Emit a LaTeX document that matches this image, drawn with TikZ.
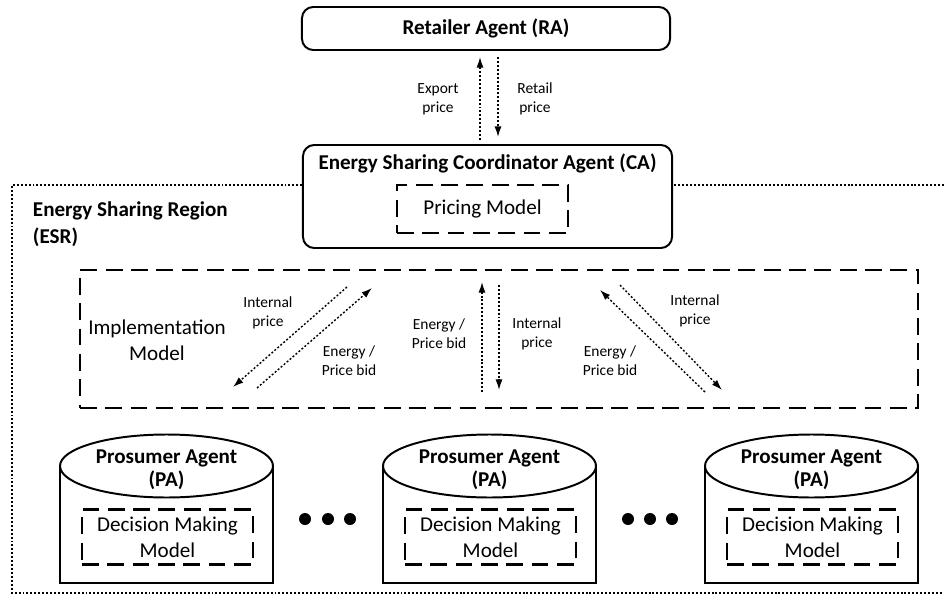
\documentclass[tikz,border=0pt]{standalone}
\usepackage{fontspec}
\setmainfont{Carlito}
\usetikzlibrary{arrows.meta}

\begin{document}
\begin{tikzpicture}[x=0.025cm, y=-0.025cm,
    agent/.style={draw, line width=1.4pt, rounded corners=8pt, fill=white},
    title/.style={align=center, font=\fontsize{15}{16}\selectfont\bfseries},
    model/.style={draw, line width=1.5pt, dash pattern=on 12pt off 6pt, align=center, font=\fontsize{15}{18.5}\selectfont},
    flow/.style={line width=1pt, dash pattern=on 1.4pt off 1.4pt, -{Latex[length=7.5pt,width=5pt]}},
    note/.style={align=center, font=\fontsize{11}{13.5}\selectfont},
    region/.style={line width=1pt, dash pattern=on 1.4pt off 1.4pt}]
    \useasboundingbox (0,0) rectangle (944,603);
    % energy sharing region
    \draw[region] (944,185) -- (12,185) -- (12,593) -- (944,593);
    \node[title, anchor=west, align=left, font=\fontsize{15}{19}\selectfont\bfseries] (esr) at (28,224) {Energy Sharing Region\\(ESR)};
    % retailer and coordinator
    \node[agent, title, minimum width=9.2cm, minimum height=1.075cm] (ra) at (486,28.5) {Retailer Agent (RA)};
    \node[agent, minimum width=9.225cm, minimum height=2.575cm] (ca) at (487.5,196.5) {};
    \node[title] (catitle) at (487.5,163) {Energy Sharing Coordinator Agent (CA)};
    \node[model, minimum width=4.275cm, minimum height=1.2cm] (pm) at (482.5,209) {Pricing Model};
    \coordinate (exp1) at (480,140); \coordinate (exp2) at (480,57);
    \coordinate (ret1) at (498,57);  \coordinate (ret2) at (498,137);
    \draw[flow] (exp1) -- (exp2);
    \draw[flow] (ret1) -- (ret2);
    \node[note] (expl) at (438,99) {Export\\price};
    \node[note] (retl) at (535,99) {Retail\\price};
    % implementation model
    \node[model, minimum width=20.95cm, minimum height=3.45cm] (im) at (499,339) {};
    \node[align=center, font=\fontsize{15}{18.5}\selectfont] (imtext) at (157,340) {Implementation\\Model};
    \coordinate (li1) at (347,287); \coordinate (li2) at (233,387);
    \coordinate (lb1) at (257,388); \coordinate (lb2) at (372,288);
    \coordinate (mb1) at (482,392); \coordinate (mb2) at (482,282);
    \coordinate (mi1) at (499,285); \coordinate (mi2) at (499,390);
    \coordinate (rb1) at (705,392); \coordinate (rb2) at (600,290);
    \coordinate (ri1) at (620,285); \coordinate (ri2) at (722,390);
    \draw[flow] (li1) -- (li2);
    \draw[flow] (lb1) -- (lb2);
    \draw[flow] (mb1) -- (mb2);
    \draw[flow] (mi1) -- (mi2);
    \draw[flow] (rb1) -- (rb2);
    \draw[flow] (ri1) -- (ri2);
    \node[note] (lil) at (268,313) {Internal\\price};
    \node[note] (lbl) at (349,361) {Energy /\\Price bid};
    \node[note] (mbl) at (439,334) {Energy /\\Price bid};
    \node[note] (mil) at (537,334) {Internal\\price};
    \node[note] (ril) at (695,311) {Internal\\price};
    \node[note] (rbl) at (610,361) {Energy /\\Price bid};
    % prosumer agents
    \foreach \cx/\n in {166.5/1, 489.5/2, 811.5/3} {
        \draw[line width=1.4pt] (\cx-106.5,466) -- (\cx-106.5,583) -- (\cx+106.5,583) -- (\cx+106.5,466);
        \draw[line width=1.4pt] (\cx,466) ellipse [x radius=106.5, y radius=31.5];
        \node[title] (pa\n) at (\cx,470) {Prosumer Agent\\(PA)};
        \node[model, minimum width=4.275cm, minimum height=1.375cm] (dm\n) at (\cx+1,537) {Decision Making\\Model};
    }
    \foreach \dx in {305,328,350,628,650,672}
        \fill (\dx,519) circle [radius=6];
\end{tikzpicture}
\end{document}
